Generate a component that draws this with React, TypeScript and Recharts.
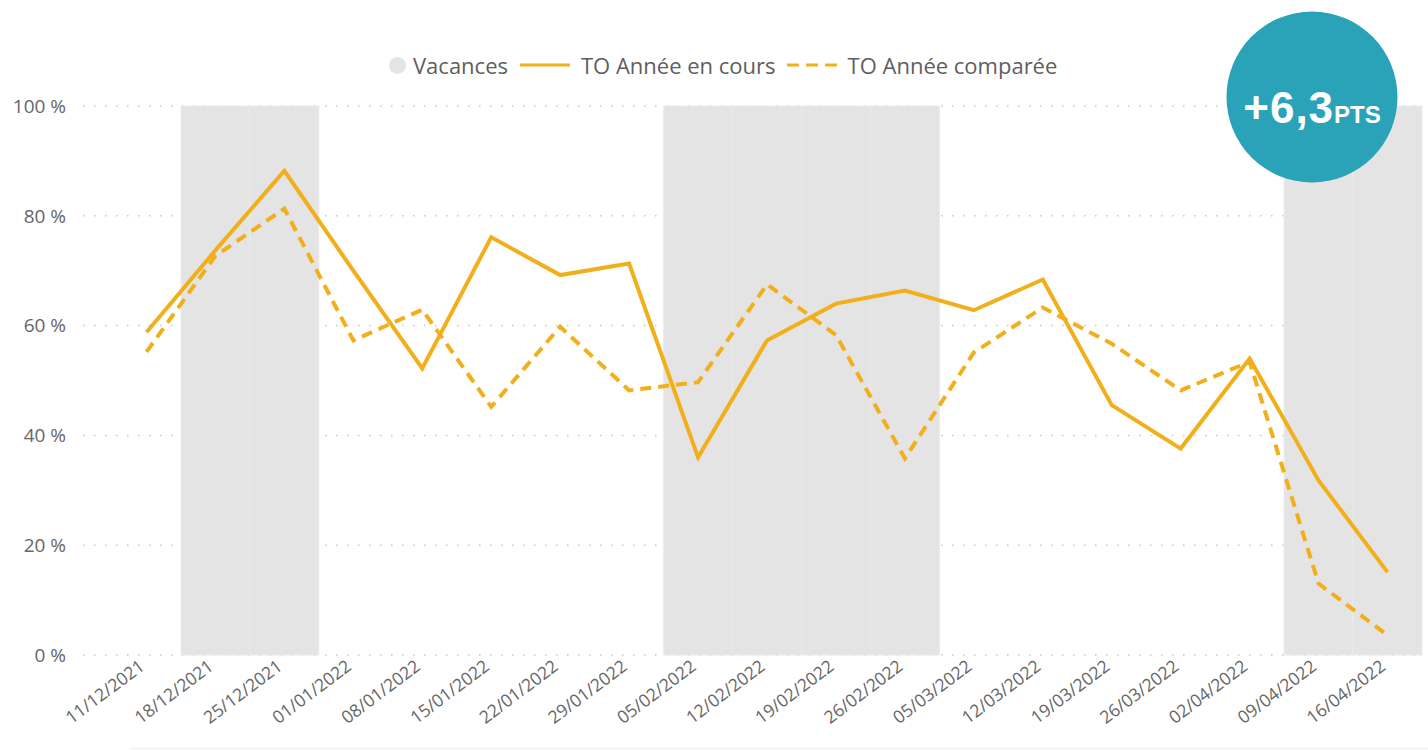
import { ComposedChart, Bar, Line, XAxis, YAxis, CartesianGrid } from "recharts";

const weeks = [
  "11/12/2021", "18/12/2021", "25/12/2021", "01/01/2022", "08/01/2022", "15/01/2022", "22/01/2022",
  "29/01/2022", "05/02/2022", "12/02/2022", "19/02/2022", "26/02/2022", "05/03/2022", "12/03/2022",
  "19/03/2022", "26/03/2022", "02/04/2022", "09/04/2022", "16/04/2022",
];
const vacances = [0, 100, 100, 0, 0, 0, 0, 0, 100, 100, 100, 100, 0, 0, 0, 0, 0, 100, 100];
const anneeEnCours = [58.8, 73.7, 88.2, 70.0, 52.2, 76.1, 69.2, 71.3, 36.0, 57.3, 64.0, 66.4, 62.8, 68.4, 45.5, 37.6, 54.0, 31.8, 15.1];
const anneeComparee = [55.2, 72.7, 81.3, 57.3, 62.9, 45.2, 59.8, 48.2, 49.7, 67.5, 58.3, 35.8, 55.1, 63.3, 56.7, 48.2, 53.4, 13.0, 3.6];
const yTicks = [0, 20, 40, 60, 80, 100];

const data = weeks.map((week, i) => ({
  week,
  vacances: vacances[i],
  enCours: anneeEnCours[i],
  comparee: anneeComparee[i],
}));

const ORANGE = "#F2AF1C";
const GRAY_BAR = "#E4E4E4";
const TEXT = "#666666";
const FONT = "'Open Sans', sans-serif";

const XTick = ({ x, y, payload }: any) => (
  <text
    x={x}
    y={y}
    dx={-4}
    dy={4}
    textAnchor="end"
    transform={`rotate(-37, ${x}, ${y})`}
    fill={TEXT}
    fontSize={17.5}
    fontFamily={FONT}
  >
    {payload.value}
  </text>
);

const LegendRow = () => (
  <div
    style={{
      position: "absolute",
      left: 389,
      top: 50,
      display: "flex",
      alignItems: "center",
      fontFamily: FONT,
      fontSize: 22,
      color: "#605E5C",
      whiteSpace: "nowrap",
      height: 30,
    }}
  >
    <span style={{ width: 17, height: 17, borderRadius: 9, background: GRAY_BAR, marginRight: 7 }} />
    <span>Vacances</span>
    <svg width={50} height={10} style={{ marginLeft: 12, marginRight: 11 }}>
      <line x1={0} y1={5} x2={50} y2={5} stroke={ORANGE} strokeWidth={3} />
    </svg>
    <span>TO Année en cours</span>
    <svg width={50} height={10} style={{ marginLeft: 11, marginRight: 11 }}>
      <line x1={0} y1={5} x2={50} y2={5} stroke={ORANGE} strokeWidth={3} strokeDasharray="12 7" />
    </svg>
    <span>TO Année comparée</span>
  </div>
);

const Badge = () => (
  <svg width={172} height={172} style={{ position: "absolute", left: 1226, top: 11 }}>
    <circle cx={86} cy={86} r={85.5} fill="#2AA3B8" />
    <text
      x={86}
      y={112}
      textAnchor="middle"
      fill="#FFFFFF"
      fontFamily="'Liberation Sans', Arial, sans-serif"
      fontWeight={700}
    >
      <tspan fontSize={44} letterSpacing={1}>+6,3</tspan>
      <tspan fontSize={24}>PTS</tspan>
    </text>
  </svg>
);

export default function App() {
  return (
    <div style={{ position: "absolute", left: 0, top: 0, width: 1428, height: 750, background: "#fff" }}>
      <ComposedChart
        width={1428}
        height={750}
        data={data}
        margin={{ top: 106, right: 6, bottom: 0, left: 0 }}
        barCategoryGap={0}
        barGap={0}
      >
        <CartesianGrid vertical={false} stroke="#C8C8C8" strokeWidth={1.5} strokeDasharray="1.5 9.5" />
        <XAxis
          dataKey="week"
          interval={0}
          axisLine={false}
          tickLine={false}
          height={95}
          padding={{ left: 29, right: 0 }}
          tick={<XTick />}
        />
        <YAxis
          domain={[0, 100]}
          ticks={yTicks}
          width={83}
          axisLine={false}
          tickLine={false}
          tickMargin={11}
          tickFormatter={(v: number) => `${v} %`}
          tick={{ fill: TEXT, fontSize: 19, fontFamily: FONT }}
        />
        <Bar dataKey="vacances" name="Vacances" fill={GRAY_BAR} stroke="#EBEBEB" strokeWidth={1} isAnimationActive={false} />
        <Line
          type="linear"
          dataKey="enCours"
          name="TO Année en cours"
          stroke={ORANGE}
          strokeWidth={4}
          dot={false}
          activeDot={false}
          isAnimationActive={false}
        />
        <Line
          type="linear"
          dataKey="comparee"
          name="TO Année comparée"
          stroke={ORANGE}
          strokeWidth={4}
          strokeDasharray="11 7"
          dot={false}
          activeDot={false}
          isAnimationActive={false}
        />
      </ComposedChart>
      <LegendRow />
      <Badge />
      <div style={{ position: "absolute", left: 130, top: 748, width: 1298, height: 1, background: "#EEEEEE" }} />
    </div>
  );
}
